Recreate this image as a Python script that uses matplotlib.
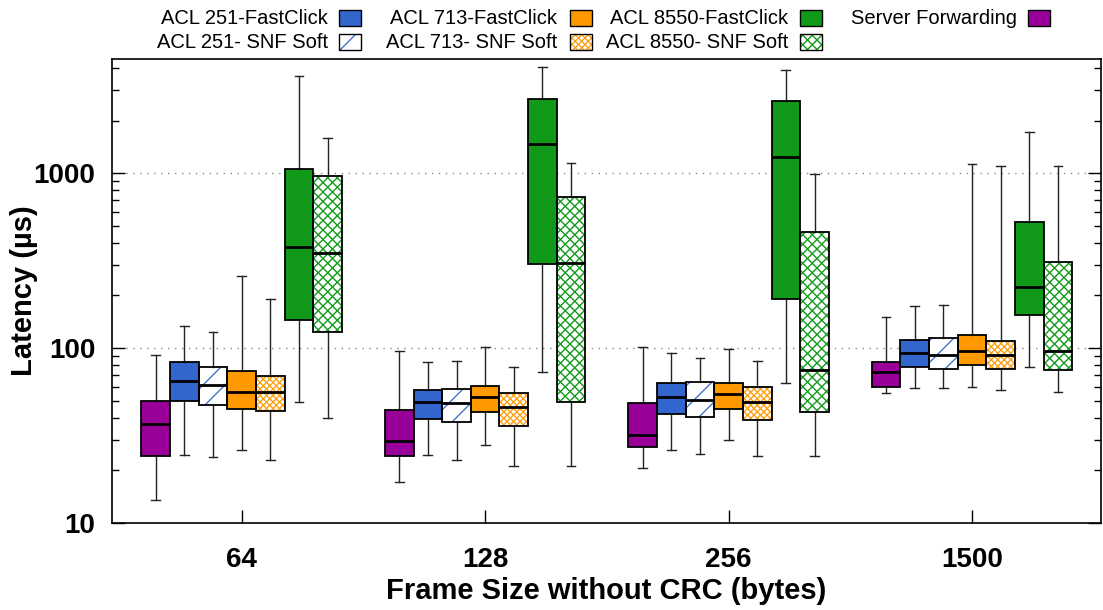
import numpy as np
import matplotlib
matplotlib.use("Agg")
import matplotlib.pyplot as plt
from matplotlib.patches import Rectangle, PathPatch
from matplotlib.collections import LineCollection
from matplotlib.transforms import IdentityTransform
from matplotlib.ticker import LogLocator, FixedLocator, NullFormatter

# ---------------------------------------------------------------- data
frame_sizes = ["64", "128", "256", "1500"]

series_names = [
    "Server Forwarding",
    "ACL 251-FastClick",
    "ACL 251- SNF Soft",
    "ACL 713-FastClick",
    "ACL 713- SNF Soft",
    "ACL 8550-FastClick",
    "ACL 8550- SNF Soft",
]

# one row per frame size: (whisker low, q1, median, q3, whisker high) in µs
server_fwd = [[13.5, 24.2, 36.9, 49.6, 91.5],
              [17.2, 24.2, 29.3, 44.1, 95.7],
              [20.5, 27.1, 31.8, 48.3, 101.3],
              [55.1, 60.1, 72.6, 83.2, 151.0]]
acl251_fc = [[24.5, 49.6, 65.0, 83.2, 134.0],
             [24.4, 39.1, 49.1, 57.3, 82.8],
             [26.2, 42.1, 52.5, 62.8, 93.6],
             [59.1, 77.6, 94.0, 110.7, 174.0]]
acl251_snf = [[23.9, 47.1, 61.7, 77.9, 124.0],
              [23.0, 37.6, 48.3, 58.3, 83.9],
              [24.9, 40.5, 50.7, 64.2, 87.3],
              [58.9, 75.5, 90.9, 113.6, 177.0]]
acl713_fc = [[26.2, 44.6, 56.3, 73.9, 259.0],
             [27.9, 43.1, 52.3, 60.4, 101.0],
             [29.7, 44.6, 54.6, 62.8, 98.3],
             [59.6, 79.6, 96.5, 118.2, 1130.0]]
acl713_snf = [[23.0, 43.8, 55.8, 69.2, 190.0],
              [21.3, 35.7, 46.0, 55.5, 78.2],
              [24.1, 38.6, 49.1, 60.1, 84.3],
              [57.8, 75.5, 90.9, 110.1, 1096.0]]
acl8550_fc = [[49.1, 144.5, 379.0, 1054.0, 3584.0],
              [72.6, 301.0, 1465.0, 2673.0, 4071.0],
              [62.8, 190.5, 1234.0, 2589.0, 3879.0],
              [77.9, 154.4, 225.0, 523.0, 1715.0]]
acl8550_snf = [[39.7, 123.4, 350.0, 961.0, 1585.0],
               [21.3, 48.9, 307.0, 732.0, 1140.0],
               [24.1, 42.9, 74.6, 464.0, 996.0],
               [56.1, 74.6, 95.7, 311.0, 1096.0]]

all_series = [server_fwd, acl251_fc, acl251_snf, acl713_fc,
              acl713_snf, acl8550_fc, acl8550_snf]

# ---------------------------------------------------------------- styles
PURPLE = "#990099"
BLUE = "#3366cc"
ORANGE = "#ff9900"
GREEN = "#119919"

face_colors = [PURPLE, BLUE, "white", ORANGE, "white", GREEN, "white"]
hatch_colors = [PURPLE, BLUE, BLUE, ORANGE, ORANGE, GREEN, GREEN]
# (spacing in pixels, draw "/" lines, draw "\" lines, line width)
hatch_specs = [None, None, (22.0, True, False, 0.9), None,
               (6.5, True, True, 0.9), None, (9.5, True, True, 1.0)]

FONT = "Liberation Sans"
plt.rcParams["font.family"] = [FONT, "DejaVu Sans"]

W_PX, H_PX, DPI = 1103, 610, 100
fig = plt.figure(figsize=(W_PX / DPI, H_PX / DPI), dpi=DPI)
ax = fig.add_axes([112 / W_PX, 1 - 523 / H_PX, (1101 - 112) / W_PX, (523 - 59) / H_PX])

ax.set_yscale("log")
ax.set_ylim(10, 4500)
ax.set_xlim(0.467, 4.53)


def add_hatch(container, patch, spec, color, zorder):
    """Diagonal hatch lines in pixel space, clipped to the patch outline."""
    spacing, fwd, back, lw = spec
    ext = patch.get_window_extent()
    x0, x1, y0, y1 = ext.x0 - 2, ext.x1 + 2, ext.y0 - 2, ext.y1 + 2
    segs = []
    if fwd:  # y = x + c
        c = np.floor((y0 - x1) / spacing) * spacing
        while c <= y1 - x0:
            segs.append([(x0, x0 + c), (x1, x1 + c)])
            c += spacing
    if back:  # y = -x + c
        c = np.floor((y0 + x0) / spacing) * spacing
        while c <= y1 + x1:
            segs.append([(x0, c - x0), (x1, c - x1)])
            c += spacing
    lc = LineCollection(segs, colors=color, linewidths=lw,
                        transform=IdentityTransform(), zorder=zorder)
    lc.set_clip_path(patch)
    container.add_artist(lc)


box_w = 0.1177
cap_w = 0.036
centers = np.arange(1, len(frame_sizes) + 1)

for i, data in enumerate(all_series):
    stats = [dict(whislo=d[0], q1=d[1], med=d[2], q3=d[3], whishi=d[4])
             for d in data]
    pos = centers + (i - 3) * box_w
    bp = ax.bxp(stats, positions=pos, widths=box_w, capwidths=cap_w,
                patch_artist=True, showfliers=False, manage_ticks=False,
                boxprops=dict(facecolor=face_colors[i], edgecolor="none",
                              linewidth=0),
                whiskerprops=dict(color="#222222", linewidth=1.0),
                capprops=dict(color="#222222", linewidth=1.0),
                medianprops=dict(color="black", linewidth=2.0, zorder=4))
    for box in bp["boxes"]:
        if hatch_specs[i]:
            add_hatch(ax, box, hatch_specs[i], hatch_colors[i], 3)
        outline = PathPatch(box.get_path(), transform=box.get_transform(),
                            fill=False, edgecolor="black", linewidth=1.3,
                            zorder=3.5)
        ax.add_patch(outline)

# ---------------------------------------------------------------- axes
ax.yaxis.set_major_locator(FixedLocator([10, 100, 1000]))
ax.yaxis.set_minor_locator(LogLocator(base=10, subs=np.arange(2, 10)))
ax.yaxis.set_minor_formatter(NullFormatter())
ax.set_yticklabels(["10", "100", "1000"])
ax.set_xticks(centers)
ax.set_xticklabels(frame_sizes)

ax.tick_params(axis="y", which="major", direction="in", length=9.5, width=1,
               left=True, right=True, labelsize=20, pad=12)
ax.tick_params(axis="y", which="minor", direction="in", length=5, width=1,
               left=True, right=True)
ax.tick_params(axis="x", which="major", direction="in", length=9.5, width=1,
               bottom=True, top=False, labelsize=20, pad=17)
ax.tick_params(axis="x", which="minor", bottom=False, top=False)
for lab in ax.get_xticklabels() + ax.get_yticklabels():
    lab.set_fontweight("bold")

for sp in ax.spines.values():
    sp.set_linewidth(1.2)

ax.yaxis.grid(True, which="major", linestyle=(0, (1, 4)), color="#888888",
              linewidth=1.0)
ax.set_axisbelow(True)


def fx(px):
    return px / W_PX


def fy(py):
    return 1 - py / H_PX


fig.text(fx(606), fy(591), "Frame Size without CRC (bytes)", ha="center",
         va="center", fontsize=21, fontweight="bold")
fig.text(fx(24), fy(291), "Latency (µs)", ha="center", va="center",
         rotation=90, fontsize=21, fontweight="bold")

# ---------------------------------------------------------------- legend
legend_slots = [  # (series index, text right edge px, sample left px, row y px)
    (1, 328, 339, 18), (2, 328, 339, 42),
    (3, 557, 570, 18), (4, 557, 570, 42),
    (5, 788, 800, 18), (6, 788, 800, 42),
    (0, 1017, 1028, 18),
]
for idx, tx, bx, ry in legend_slots:
    fig.text(fx(tx), fy(ry), series_names[idx], ha="right", va="center",
             fontsize=14.5, family=[FONT, "DejaVu Sans"])
    sw, sh = 22, 15
    rect = Rectangle((fx(bx), fy(ry + sh / 2)), fx(sw), sh / H_PX,
                     transform=fig.transFigure, facecolor=face_colors[idx],
                     edgecolor="none", linewidth=0)
    fig.add_artist(rect)
    if hatch_specs[idx]:
        add_hatch(fig, rect, hatch_specs[idx], hatch_colors[idx], 2)
    frame = Rectangle((fx(bx), fy(ry + sh / 2)), fx(sw), sh / H_PX,
                      transform=fig.transFigure, fill=False,
                      edgecolor="black", linewidth=1.0, zorder=3)
    fig.add_artist(frame)

fig.savefig("out.png", dpi=DPI)
